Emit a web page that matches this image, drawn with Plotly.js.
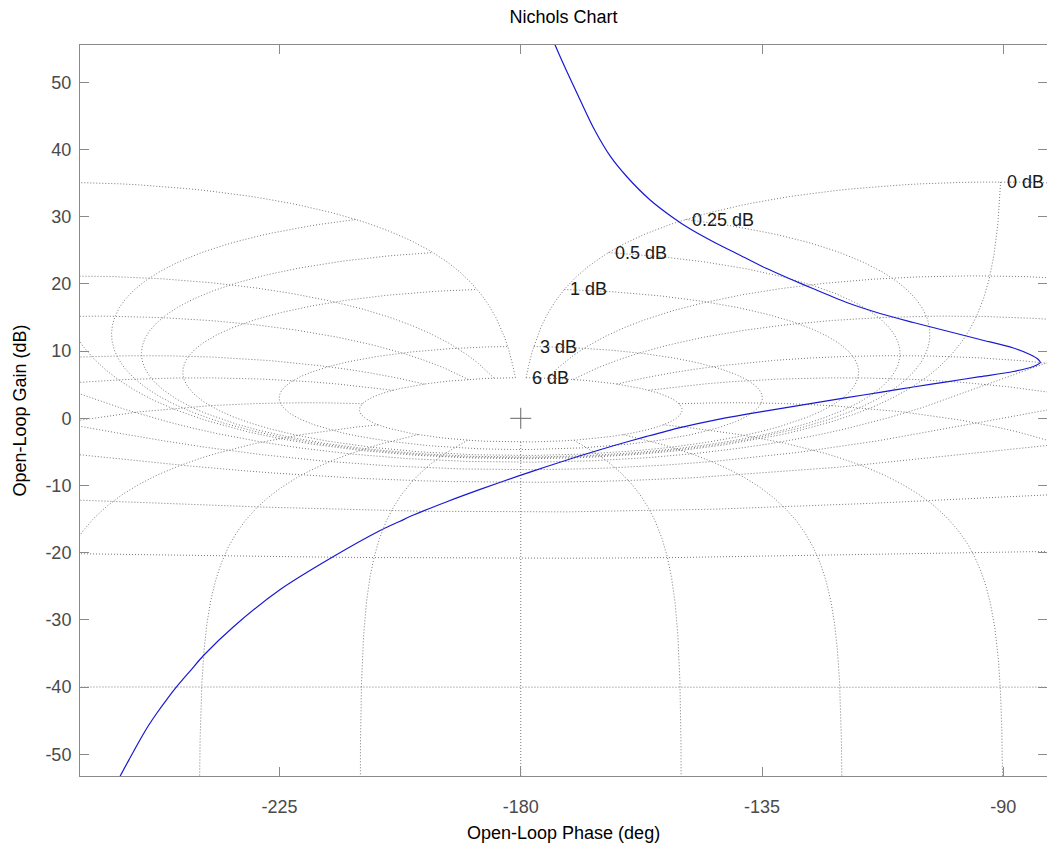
<!DOCTYPE html>
<html>
<head>
<meta charset="utf-8">
<script src="https://cdn.plot.ly/plotly-3.0.1.min.js"></script>
<style>html,body{margin:0;padding:0;background:#fff;}#chart{width:1047px;height:849px;}</style>
</head>
<body>
<div id="chart"></div>
<script>
// ---- Data ----
// Open-loop response (blue curve): phase in degrees, gain in dB
const curvePhase = [-174.70, -173.59, -171.53, -168.92, -166.22, -163.24, -160.16, -155.87, -151.77, -148.60,
  -143.57, -139.18, -134.24, -129.30, -125.42, -119.19, -112.99, -106.78, -100.55, -94.34,
  -88.13, -85.02, -83.47, -83.10, -84.40, -88.13, -94.34, -100.55, -106.78, -112.99,
  -119.19, -125.42, -131.63, -137.84, -144.07, -150.28, -156.49, -162.72, -168.92, -175.13,
  -180.11, -187.57, -193.78, -200.01, -202.49, -206.22, -214.93, -224.86, -233.57, -239.17,
  -241.64, -244.13, -246.03, -247.85, -249.48, -250.97, -252.83, -254.70, -255.63];
const curveGain = [57.78, 55.55, 51.83, 47.37, 42.90, 38.93, 35.91, 32.49, 29.96, 28.27,
  26.04, 24.30, 22.32, 20.58, 19.27, 17.23, 15.60, 14.26, 12.99, 11.73,
  10.46, 9.49, 8.75, 8.27, 7.71, 6.96, 6.19, 5.43, 4.66, 3.87,
  3.07, 2.26, 1.44, 0.61, -0.30, -1.38, -2.69, -4.09, -5.58, -7.17,
  -8.50, -10.58, -12.41, -14.40, -15.31, -16.70, -20.57, -25.48, -31.01, -35.30,
  -37.59, -39.91, -41.85, -43.85, -45.79, -47.80, -50.48, -53.23, -54.72];

// Nichols grid levels (closed-loop gain in dB, closed-loop phase in deg)
const gridGainDb = [6, 3, 1, 0.5, 0.25, 0, -1, -3, -6, -12, -20, -40];
const gridPhaseDeg = [1, 5, 10, 20, 30, 50, 90, 120, 150, 180];
const labeledGainDb = [6, 3, 1, 0.5, 0.25, 0];
const labelText = ['6 dB', '3 dB', '1 dB', '0.5 dB', '0.25 dB', '0 dB'];

// Critical point
const critPhase = [-180];
const critGain = [0];

// Axis ticks
const xTickVals = [-225, -180, -135, -90];
const xTickText = ['-225', '-180', '-135', '-90'];
const yTickVals = [-50, -40, -30, -20, -10, 0, 10, 20, 30, 40, 50];
const yTickText = ['-50', '-40', '-30', '-20', '-10', '0', '10', '20', '30', '40', '50'];

// ---- Nichols grid: closed-loop T = m e^{j theta} mapped to open-loop L = T/(1-T) ----
function olPoint(mDb, thetaDeg) {
  const m = Math.pow(10, mDb / 20), th = thetaDeg * Math.PI / 180;
  const tr = m * Math.cos(th), ti = m * Math.sin(th);
  const dr = 1 - tr, di = -ti;
  const d2 = dr * dr + di * di;
  const lr = (tr * dr + ti * di) / d2, li = (ti * dr - tr * di) / d2;
  let ph = Math.atan2(li, lr) * 180 / Math.PI;
  if (ph > 0) ph -= 360;
  const g = 10 * Math.log10(lr * lr + li * li);
  return [ph, g];
}
const gx = [], gy = [];
function addPath(pts) {
  let prev = null;
  for (const p of pts) {
    if (prev && Math.abs(p[0] - prev[0]) > 180) { gx.push(null); gy.push(null); }
    gx.push(p[0]); gy.push(p[1]);
    prev = p;
  }
  gx.push(null); gy.push(null);
}
// constant closed-loop gain contours
for (const M of gridGainDb) {
  const pts = [];
  for (let t = -1; t >= -359.0001; t -= 0.1) pts.push(olPoint(M, t));
  addPath(pts);
}
// constant closed-loop phase contours
const thetas = [];
for (const p of gridPhaseDeg) { thetas.push(-p); if (p !== 180) thetas.push(-(360 - p)); }
for (const th of thetas) {
  const pts = [];
  for (let mdb = 6; mdb >= -6; mdb -= 0.01) pts.push(olPoint(mdb, th));
  for (let mdb = -6; mdb >= -80; mdb -= 0.1) pts.push(olPoint(mdb, th));
  addPath(pts);
}

const FONT = 'Liberation Sans, Arial, Helvetica, sans-serif';
const annotations = labeledGainDb.map((M, i) => {
  const p = olPoint(M, -1);
  return {x: p[0], y: p[1], xref: 'x', yref: 'y', text: labelText[i], showarrow: false,
    xanchor: 'left', yanchor: 'middle', xshift: 4, font: {family: FONT, size: 18, color: '#1a1a1a'}};
});
annotations.push({x: 0.5, y: 0, xref: 'paper', yref: 'paper', yanchor: 'middle', yshift: -57,
  text: 'Open-Loop Phase (deg)', showarrow: false, font: {family: FONT, size: 18, color: '#000'}});
annotations.push({x: 0, y: 0.5, xref: 'paper', yref: 'paper', xanchor: 'center', xshift: -61,
  textangle: -90, text: 'Open-Loop Gain (dB)', showarrow: false, font: {family: FONT, size: 18, color: '#000'}});

const traces = [
  {x: gx, y: gy, type: 'scatter', mode: 'lines', hoverinfo: 'skip', connectgaps: false,
    line: {color: 'rgb(120,120,120)', width: 1, dash: '1px,2px'}},
  {x: curvePhase, y: curveGain, type: 'scatter', mode: 'lines',
    line: {color: 'rgb(25,25,210)', width: 1.2, shape: 'spline', smoothing: 0.8}},
  {x: critPhase, y: critGain, type: 'scatter', mode: 'markers',
    marker: {symbol: 'cross-thin-open', size: 15, color: '#666', line: {color: '#666', width: 1}}}
];

const axisCommon = {showline: true, linecolor: '#8a8a8a', linewidth: 1, mirror: 'ticks', ticks: 'inside',
  ticklen: 9, tickcolor: '#8a8a8a', showgrid: false, zeroline: false,
  tickfont: {family: FONT, size: 18, color: '#4a4a4a'}};

const layout = {
  width: 1047, height: 849,
  margin: {l: 80, r: 0, t: 45, b: 73},
  paper_bgcolor: '#fff', plot_bgcolor: '#fff',
  showlegend: false,
  title: {text: 'Nichols Chart', font: {family: FONT, size: 18, color: '#000'}, x: 0.5, xref: 'paper',
    y: 1 - 17 / 849, yref: 'container', yanchor: 'middle'},
  xaxis: Object.assign({}, axisCommon, {range: [-262.2, -81.85], tickvals: xTickVals, ticktext: xTickText, ticklabelstandoff: 14}),
  yaxis: Object.assign({}, axisCommon, {range: [-53.23, 55.55], tickvals: yTickVals, ticktext: yTickText, ticklabelstandoff: 4}),
  annotations: annotations
};
Plotly.newPlot('chart', traces, layout, {displayModeBar: false, staticPlot: true});
</script>
</body>
</html>
